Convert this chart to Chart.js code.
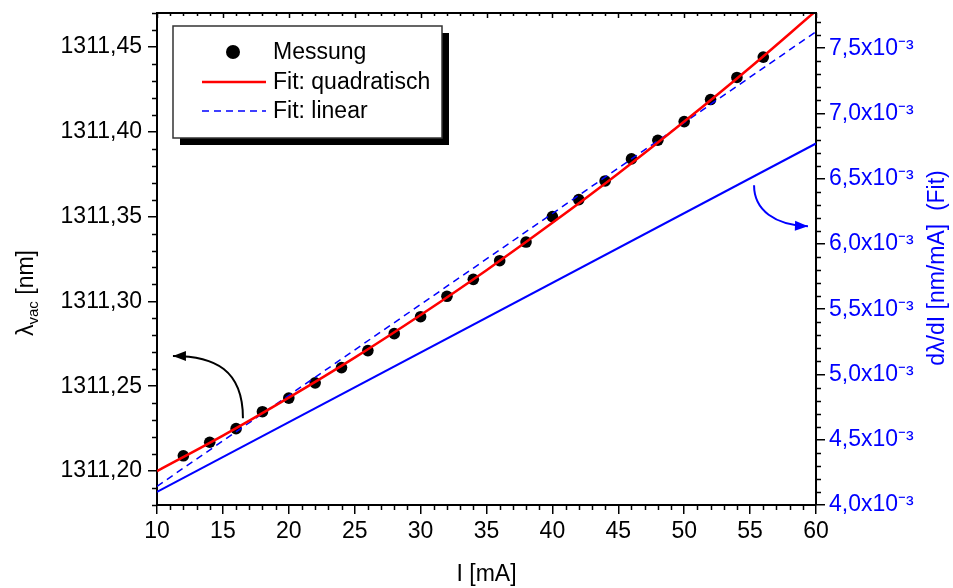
<!DOCTYPE html>
<html>
<head>
<meta charset="utf-8">
<script src="https://cdn.jsdelivr.net/npm/chart.js@4.4.1/dist/chart.umd.min.js"></script>
<style>
  html, body { margin: 0; padding: 0; background: #fff; }
  #wrap { width: 953px; height: 588px; }
</style>
</head>
<body>
<div id="wrap"><canvas id="chart" width="953" height="588"></canvas></div>
<script>
// Messung: wavelength vs. laser current
const current = [12, 14, 16, 18, 20, 22, 24, 26, 28, 30, 32, 34, 36, 38, 40, 42, 44, 46, 48, 50, 52, 54, 56];
const lambda = [1311.209, 1311.217, 1311.225, 1311.235, 1311.243, 1311.252, 1311.261, 1311.271, 1311.281,
  1311.291, 1311.303, 1311.313, 1311.324, 1311.335, 1311.350, 1311.360, 1311.371, 1311.384, 1311.395,
  1311.406, 1311.419, 1311.432, 1311.444];

// quadratic fit, read every 5 mA
const quadCurrent = [10, 15, 20, 25, 30, 35, 40, 45, 50, 55, 60];
const quadLambda = [1311.2000, 1311.2209, 1311.2433, 1311.2669, 1311.2920, 1311.3184, 1311.3463,
  1311.3754, 1311.4060, 1311.4379, 1311.4713];

// linear fit
const linCurrent = [10, 60];
const linLambda = [1311.191, 1311.459];

// derivative of the quadratic fit (right axis)
const slopeCurrent = [10, 60];
const slopeValue = [4.10e-3, 6.77e-3];

// axis ranges
const xRange = [10, 60];
const leftRange = [1311.18, 1311.47];
const rightRange = [4.0e-3, 7.77e-3];

// curved arrows, in data units: [from, control1, control2, tip]
const arrowLeft = [[16.52, 1311.2312], [16.52, 1311.2595], [14.40, 1311.2678], [11.21, 1311.2678]];
const arrowRight = [[55.30, 6.450e-3], [55.30, 6.259e-3], [56.89, 6.144e-3], [59.39, 6.136e-3]];

const FONT = '"Liberation Sans", Arial, sans-serif';
const BLUE = '#0000ff';

const toXY = (xs, ys) => xs.map((x, i) => ({ x, y: ys[i] }));

function drawArrow(ctx, pts, color) {
  ctx.save();
  ctx.strokeStyle = color;
  ctx.fillStyle = color;
  ctx.lineWidth = 2;
  ctx.beginPath();
  ctx.moveTo(pts[0][0], pts[0][1]);
  ctx.bezierCurveTo(pts[1][0], pts[1][1], pts[2][0], pts[2][1], pts[3][0], pts[3][1]);
  ctx.stroke();
  const [tx, ty] = pts[3];
  const ang = Math.atan2(ty - pts[2][1], tx - pts[2][0]);
  ctx.translate(tx, ty);
  ctx.rotate(ang);
  ctx.beginPath();
  ctx.moveTo(0, 0);
  ctx.lineTo(-13, -5);
  ctx.lineTo(-13, 5);
  ctx.closePath();
  ctx.fill();
  ctx.restore();
}

const decor = {
  id: 'decor',
  afterDatasetsDraw(chart) {
    const { ctx, chartArea: a, scales } = chart;
    const x = scales.x, y = scales.y, y2 = scales.y2;
    ctx.save();

    // top frame line
    ctx.strokeStyle = '#000';
    ctx.lineWidth = 2;
    ctx.beginPath();
    ctx.moveTo(a.left - 1, a.top);
    ctx.lineTo(a.right + 1, a.top);
    ctx.stroke();

    // minor ticks
    ctx.lineWidth = 1.5;
    ctx.beginPath();
    for (let v = xRange[0]; v <= xRange[1] + 1e-9; v += 1) {
      const px = Math.round(x.getPixelForValue(v)) + 0.5;
      const major = v % 5 === 0;
      if (!major) { ctx.moveTo(px, a.bottom); ctx.lineTo(px, a.bottom + 5); }
      ctx.moveTo(px, a.top); ctx.lineTo(px, a.top + (major ? 5 : 3));
    }
    for (let k = 0; k <= 29; k++) {
      const v = leftRange[0] + k * 0.01;
      if (Math.abs(((v - 1311.2) / 0.05) - Math.round((v - 1311.2) / 0.05)) < 1e-6) continue;
      const py = Math.round(y.getPixelForValue(v)) + 0.5;
      ctx.moveTo(a.left, py); ctx.lineTo(a.left - 5, py);
    }
    for (let k = 0; k <= 37; k++) {
      if (k % 5 === 0) continue;
      const v = rightRange[0] + k * 1e-4;
      const py = Math.round(y2.getPixelForValue(v)) + 0.5;
      ctx.moveTo(a.right, py); ctx.lineTo(a.right + 5, py);
    }
    ctx.stroke();

    // arrows
    drawArrow(ctx, arrowLeft.map(p => [x.getPixelForValue(p[0]), y.getPixelForValue(p[1])]), '#000');
    drawArrow(ctx, arrowRight.map(p => [x.getPixelForValue(p[0]), y2.getPixelForValue(p[1])]), BLUE);

    // legend box with shadow
    const lx = a.left + 16, ly = a.top + 13, lw = 269, lh = 112;
    ctx.fillStyle = '#000';
    ctx.fillRect(lx + 7, ly + 7, lw, lh);
    ctx.fillStyle = '#fff';
    ctx.fillRect(lx, ly, lw, lh);
    ctx.strokeStyle = '#333';
    ctx.lineWidth = 1.5;
    ctx.strokeRect(lx, ly, lw, lh);

    const ds = chart.data.datasets;
    const rows = [
      { d: ds[3], y: ly + 26 },
      { d: ds[0], y: ly + 56 },
      { d: ds[1], y: ly + 85 }
    ];
    ctx.font = '23px ' + FONT;
    ctx.textBaseline = 'middle';
    rows.forEach(r => {
      if (r.d.showLine === false) {
        ctx.fillStyle = r.d.pointBackgroundColor;
        ctx.beginPath();
        ctx.arc(lx + 60, r.y, 7, 0, Math.PI * 2);
        ctx.fill();
      } else {
        ctx.strokeStyle = r.d.borderColor;
        ctx.lineWidth = r.d.borderWidth;
        ctx.setLineDash(r.d.borderDash || []);
        ctx.beginPath();
        ctx.moveTo(lx + 29, r.y);
        ctx.lineTo(lx + 93, r.y);
        ctx.stroke();
        ctx.setLineDash([]);
      }
      ctx.fillStyle = '#000';
      ctx.fillText(r.d.label, lx + 100, r.y + 1);
    });

    // left axis title with subscript
    ctx.save();
    ctx.translate(25, 293);
    ctx.rotate(-Math.PI / 2);
    ctx.fillStyle = '#000';
    ctx.textBaseline = 'alphabetic';
    const p1 = 'λ', p2 = 'vac', p3 = ' [nm]';
    ctx.font = '23px ' + FONT;
    const w1 = ctx.measureText(p1).width, w3 = ctx.measureText(p3).width;
    ctx.font = '15px ' + FONT;
    const w2 = ctx.measureText(p2).width;
    const sx = -(w1 + w2 + w3) / 2;
    ctx.font = '23px ' + FONT;
    ctx.fillText(p1, sx, 8);
    ctx.font = '15px ' + FONT;
    ctx.fillText(p2, sx + w1, 13);
    ctx.font = '23px ' + FONT;
    ctx.fillText(p3, sx + w1 + w2, 8);
    ctx.restore();

    // right axis title
    ctx.save();
    ctx.translate(938, 268);
    ctx.rotate(-Math.PI / 2);
    ctx.fillStyle = BLUE;
    ctx.font = '23px ' + FONT;
    ctx.textAlign = 'center';
    ctx.textBaseline = 'middle';
    ctx.fillText('dλ/dI [nm/mA]  (Fit)', 0, 0);
    ctx.restore();

    ctx.restore();
  }
};

const fitVertical = width => s => {
  s.width = width;
  s.paddingTop = 0;
  s.paddingBottom = 0;
};

new Chart(document.getElementById('chart'), {
  type: 'scatter',
  data: {
    datasets: [
      {
        label: 'Fit: quadratisch',
        data: toXY(quadCurrent, quadLambda),
        showLine: true,
        borderColor: '#ff0000',
        borderWidth: 2.5,
        pointRadius: 0,
        tension: 0.4,
        yAxisID: 'y',
        order: 0
      },
      {
        label: 'Fit: linear',
        data: toXY(linCurrent, linLambda),
        showLine: true,
        borderColor: BLUE,
        borderWidth: 1.5,
        borderDash: [7, 5],
        pointRadius: 0,
        yAxisID: 'y',
        order: 1
      },
      {
        label: 'dλ/dI',
        data: toXY(slopeCurrent, slopeValue),
        showLine: true,
        borderColor: BLUE,
        borderWidth: 2,
        pointRadius: 0,
        yAxisID: 'y2',
        order: 2
      },
      {
        label: 'Messung',
        data: toXY(current, lambda),
        showLine: false,
        pointRadius: 5.8,
        pointBackgroundColor: '#000',
        pointBorderColor: '#000',
        pointBorderWidth: 0,
        yAxisID: 'y',
        order: 3
      }
    ]
  },
  options: {
    responsive: false,
    animation: false,
    devicePixelRatio: 1,
    layout: { padding: { top: 13, left: 0, right: 0, bottom: 0 } },
    plugins: { legend: { display: false }, tooltip: { enabled: false } },
    scales: {
      x: {
        type: 'linear',
        position: 'bottom',
        min: xRange[0],
        max: xRange[1],
        afterFit: s => { s.height = 83; s.paddingLeft = 0; s.paddingRight = 0; },
        border: { display: true, color: '#000', width: 2 },
        grid: { drawOnChartArea: false, drawTicks: true, tickLength: 9, color: '#000', lineWidth: 1.5 },
        ticks: { stepSize: 5, color: '#000', padding: 4, font: { family: FONT, size: 23 }, maxRotation: 0 },
        title: { display: true, text: 'I [mA]', color: '#000', font: { family: FONT, size: 23 }, padding: { top: 0, bottom: 0 } }
      },
      y: {
        type: 'linear',
        position: 'left',
        min: leftRange[0],
        max: leftRange[1],
        afterFit: fitVertical(157),
        border: { display: true, color: '#000', width: 2 },
        grid: { drawOnChartArea: false, drawTicks: true, tickLength: 9, color: '#000', lineWidth: 1.5 },
        ticks: {
          stepSize: 0.05,
          includeBounds: false,
          color: '#000',
          padding: 6,
          font: { family: FONT, size: 23 },
          callback: v => v.toFixed(2).replace('.', ',')
        }
      },
      y2: {
        type: 'linear',
        position: 'right',
        min: rightRange[0],
        max: rightRange[1],
        afterFit: fitVertical(137),
        border: { display: true, color: '#000', width: 2 },
        grid: { drawOnChartArea: false, drawTicks: true, tickLength: 9, color: '#000', lineWidth: 1.5 },
        ticks: {
          stepSize: 0.5e-3,
          includeBounds: false,
          color: BLUE,
          padding: 4,
          font: { family: FONT, size: 23 },
          callback: v => (v * 1000).toFixed(1).replace('.', ',') + 'x10⁻³'
        }
      }
    }
  },
  plugins: [decor]
});
</script>
</body>
</html>
